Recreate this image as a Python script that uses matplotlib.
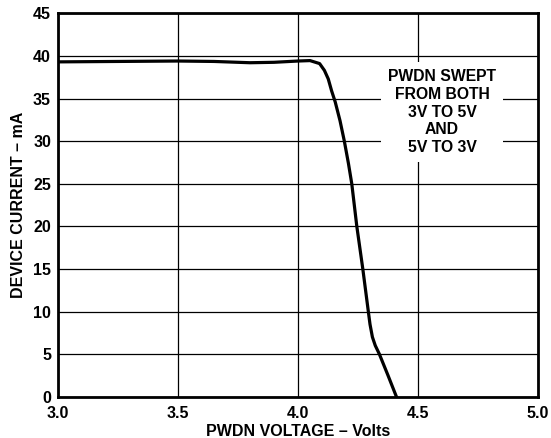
import matplotlib
matplotlib.use("Agg")
import matplotlib.pyplot as plt

plt.rcParams['font.family'] = ['Liberation Sans', 'DejaVu Sans']
plt.rcParams['font.weight'] = 'bold'

# PWDN voltage (V) and device current (mA)
volts = [3.0, 3.25, 3.5, 3.65, 3.8, 3.9, 4.0, 4.05, 4.09, 4.11, 4.126, 4.14,
         4.155, 4.175, 4.193, 4.21, 4.224, 4.245, 4.27, 4.293, 4.30, 4.31,
         4.322, 4.339, 4.375, 4.41]
current = [39.3, 39.35, 39.4, 39.35, 39.2, 39.25, 39.4, 39.45, 39.1, 38.3, 37.3, 35.9,
           34.6, 32.4, 30.0, 27.4, 25.0, 20.0, 15.0, 10.0, 8.5, 7.0,
           6.0, 5.0, 2.5, 0.0]

xticks = [3.0, 3.5, 4.0, 4.5, 5.0]
yticks = [0, 5, 10, 15, 20, 25, 30, 35, 40, 45]

fig = plt.figure(figsize=(5.51, 4.38), dpi=100)
ax = fig.add_axes([0.1053, 0.0943, 0.8711, 0.8753])

ax.plot(volts, current, color='black', linewidth=2.3, zorder=3)

ax.set_xlim(3.0, 5.0)
ax.set_ylim(0, 45)
ax.set_xticks(xticks)
ax.set_xticklabels([f"{v:.1f}" for v in xticks], fontsize=11.5, fontweight='bold')
ax.set_yticks(yticks)
ax.set_yticklabels([str(v) for v in yticks], fontsize=11.5, fontweight='bold')
ax.tick_params(axis='x', length=0, pad=7)
ax.tick_params(axis='y', length=0, pad=5)
ax.grid(True, color='black', linewidth=0.9)
for s in ax.spines.values():
    s.set_linewidth(2)

ax.set_xlabel("PWDN VOLTAGE – Volts", fontsize=11.5, fontweight='bold', labelpad=2)
ax.set_ylabel("DEVICE CURRENT – mA", fontsize=11.5, fontweight='bold', labelpad=5)

ax.text(4.6, 33.4, "PWDN SWEPT\nFROM BOTH\n3V TO 5V\nAND\n5V TO 3V",
        ha='center', va='center', fontsize=11.3, fontweight='bold', linespacing=1.22,
        bbox=dict(facecolor='white', edgecolor='none', pad=5), zorder=4)

fig.savefig("out.png", dpi=100)
